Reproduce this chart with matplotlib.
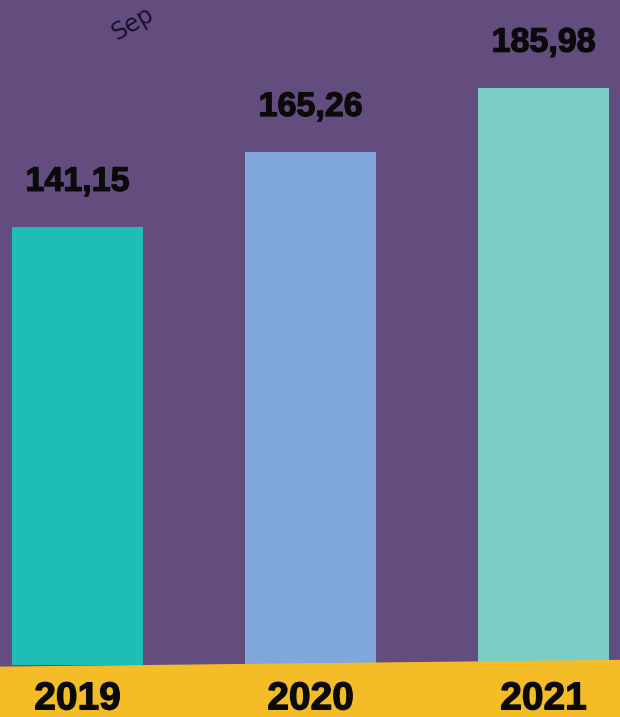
import matplotlib.pyplot as plt
import matplotlib.patheffects as pe
import numpy as np

years = ["2019", "2020", "2021"]
values = [141.15, 165.26, 185.98]
labels = ["141,15", "165,26", "185,98"]
colors = ["#1ebdb5", "#7fa7da", "#7dcdc7"]

bg = "#634d7f"
yellow = "#f4bd27"

fig = plt.figure(figsize=[6.2, 7.17], dpi=100)
fig.patch.set_facecolor(bg)
ax = fig.add_axes([0, 0, 1, 1])
ax.set_facecolor(bg)

x = np.arange(len(years))
ax.bar(x, values, width=0.562, color=colors, zorder=2)

# yellow ground band (slightly tilted like the picture)
ax.fill_between([-0.4, 2.4], [-0.8, 1.5], [-30, -30], color=yellow, zorder=3)

heavy = [pe.withStroke(linewidth=0.9, foreground="#0a0a0a")]

for xi, v, lab in zip(x, values, labels):
    ax.annotate(lab, (xi, v), xytext=(0, 21), textcoords="offset points",
                ha="center", va="bottom", fontsize=24.5, fontweight="bold",
                family="Liberation Sans", color="#0a0a0a", zorder=4,
                path_effects=heavy)

for xi, yr in zip(x, years):
    ax.text(xi, -14.3, yr, ha="center", va="baseline", fontsize=28,
            fontweight="bold", family="Liberation Sans", color="#0a0a0a",
            zorder=4, path_effects=heavy)

# curved title fragment at the top
ax.text(0.235, 206.6, "Sep", rotation=30, ha="center", va="center",
        fontsize=17, family="DejaVu Sans", color="#1a1030", zorder=4)

ax.set_xlim(-0.333, 2.328)
ax.set_ylim(-16.76, 214.3)
ax.axis("off")

fig.savefig("out.png", dpi=100, facecolor=bg)
